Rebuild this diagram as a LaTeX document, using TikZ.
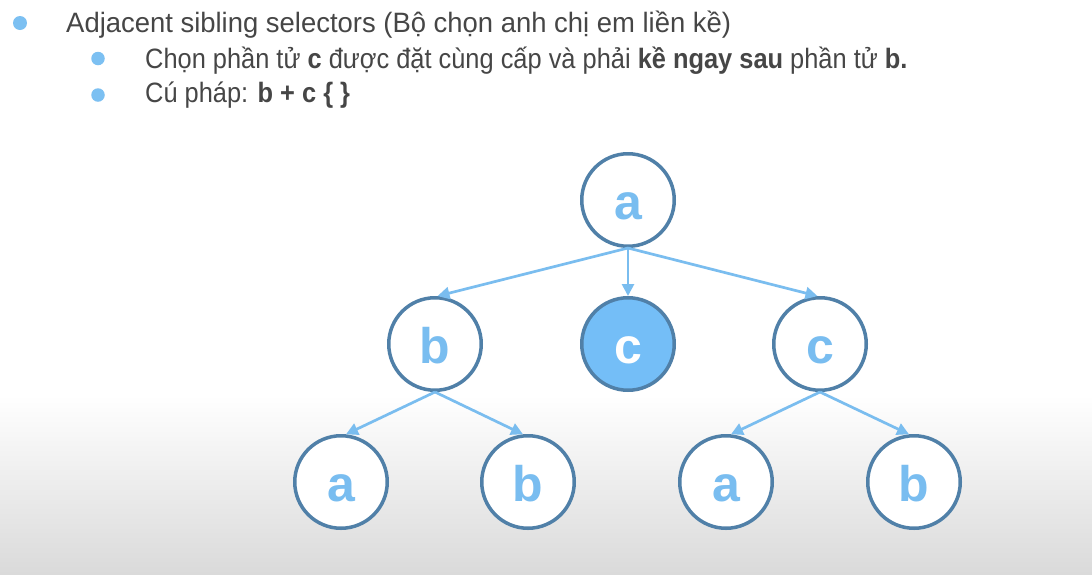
\documentclass[tikz,border=0pt]{standalone}
\usepackage{fontspec}
\setmainfont{Liberation Sans}[FakeStretch=0.907]
\newfontfamily\titlefont{Liberation Sans}[FakeStretch=0.98]
\newfontfamily\letterfont{Liberation Sans}
\usetikzlibrary{arrows.meta}
\definecolor{textcol}{HTML}{464646}
\definecolor{bulletcol}{HTML}{7CC0F2}
\definecolor{ringcol}{HTML}{5080A8}
\definecolor{lettercol}{HTML}{79BDF0}
\definecolor{fillcol}{HTML}{74BEF7}
\definecolor{arrowcol}{HTML}{7ABDEF}
\definecolor{bgbot}{HTML}{DADADA}
\tikzset{
  treenode/.style={circle, draw=ringcol, line width=3.5pt, minimum size=92.5pt,
    inner sep=0pt, fill=white, text=lettercol, text height=38pt, text depth=0pt,
    font=\letterfont\fontsize{50}{50}\selectfont\bfseries},
  picked/.style={treenode, fill=fillcol, text=white},
  edge/.style={draw=arrowcol, line width=2.7pt, -{Triangle[length=12pt,width=12pt]}},
  linetext/.style={anchor=base west, inner sep=0pt, text=textcol},
  dot/.style={circle, fill=bulletcol, inner sep=0pt, minimum size=13.5pt}
}
\begin{document}
\begin{tikzpicture}[x=1pt,y=-1pt]
\useasboundingbox (0,0) rectangle (1092,574);
\fill[white] (0,0) rectangle (1092,396);
\shade[top color=white,bottom color=bgbot] (0,395) rectangle (1092,574);

% text
\node[dot, minimum size=14pt] (d1) at (20,23) {};
\node[dot] (d2) at (98,58.5) {};
\node[dot] (d3) at (98,95) {};
\node[linetext, font=\titlefont\fontsize{28}{32}\selectfont] (t1) at (66,32)
  {Adjacent sibling selectors (Bộ chọn anh chị em liền kề)};
\node[linetext, font=\fontsize{28}{32}\selectfont] (t2) at (145,68)
  {Chọn phần tử \textbf{c} được đặt cùng cấp và phải \textbf{kề ngay sau} phần tử \textbf{b.}};
\node[linetext, font=\fontsize{28}{32}\selectfont] (t3) at (145,102)
  {Cú pháp: \textbf{b + c \{ \}}};

% tree
\node[treenode] (a) at (628,200) {a};
\node[treenode] (b) at (435,344) {b};
\node[picked] (c) at (628,344) {c};
\node[treenode] (c2) at (820,344) {c};
\node[treenode] (a1) at (341,482) {a};
\node[treenode] (b1) at (528,482) {b};
\node[treenode] (a2) at (726,482) {a};
\node[treenode] (b2) at (914,482) {b};

\draw[edge] (a.south) -- (b.87);
\draw[edge] (a.south) -- (c.north);
\draw[edge] (a.south) -- (c2.93);
\draw[edge] (b.south) -- (a1.84);
\draw[edge] (b.south) -- (b1.96);
\draw[edge] (c2.south) -- (a2.84);
\draw[edge] (c2.south) -- (b2.96);
\end{tikzpicture}
\end{document}
